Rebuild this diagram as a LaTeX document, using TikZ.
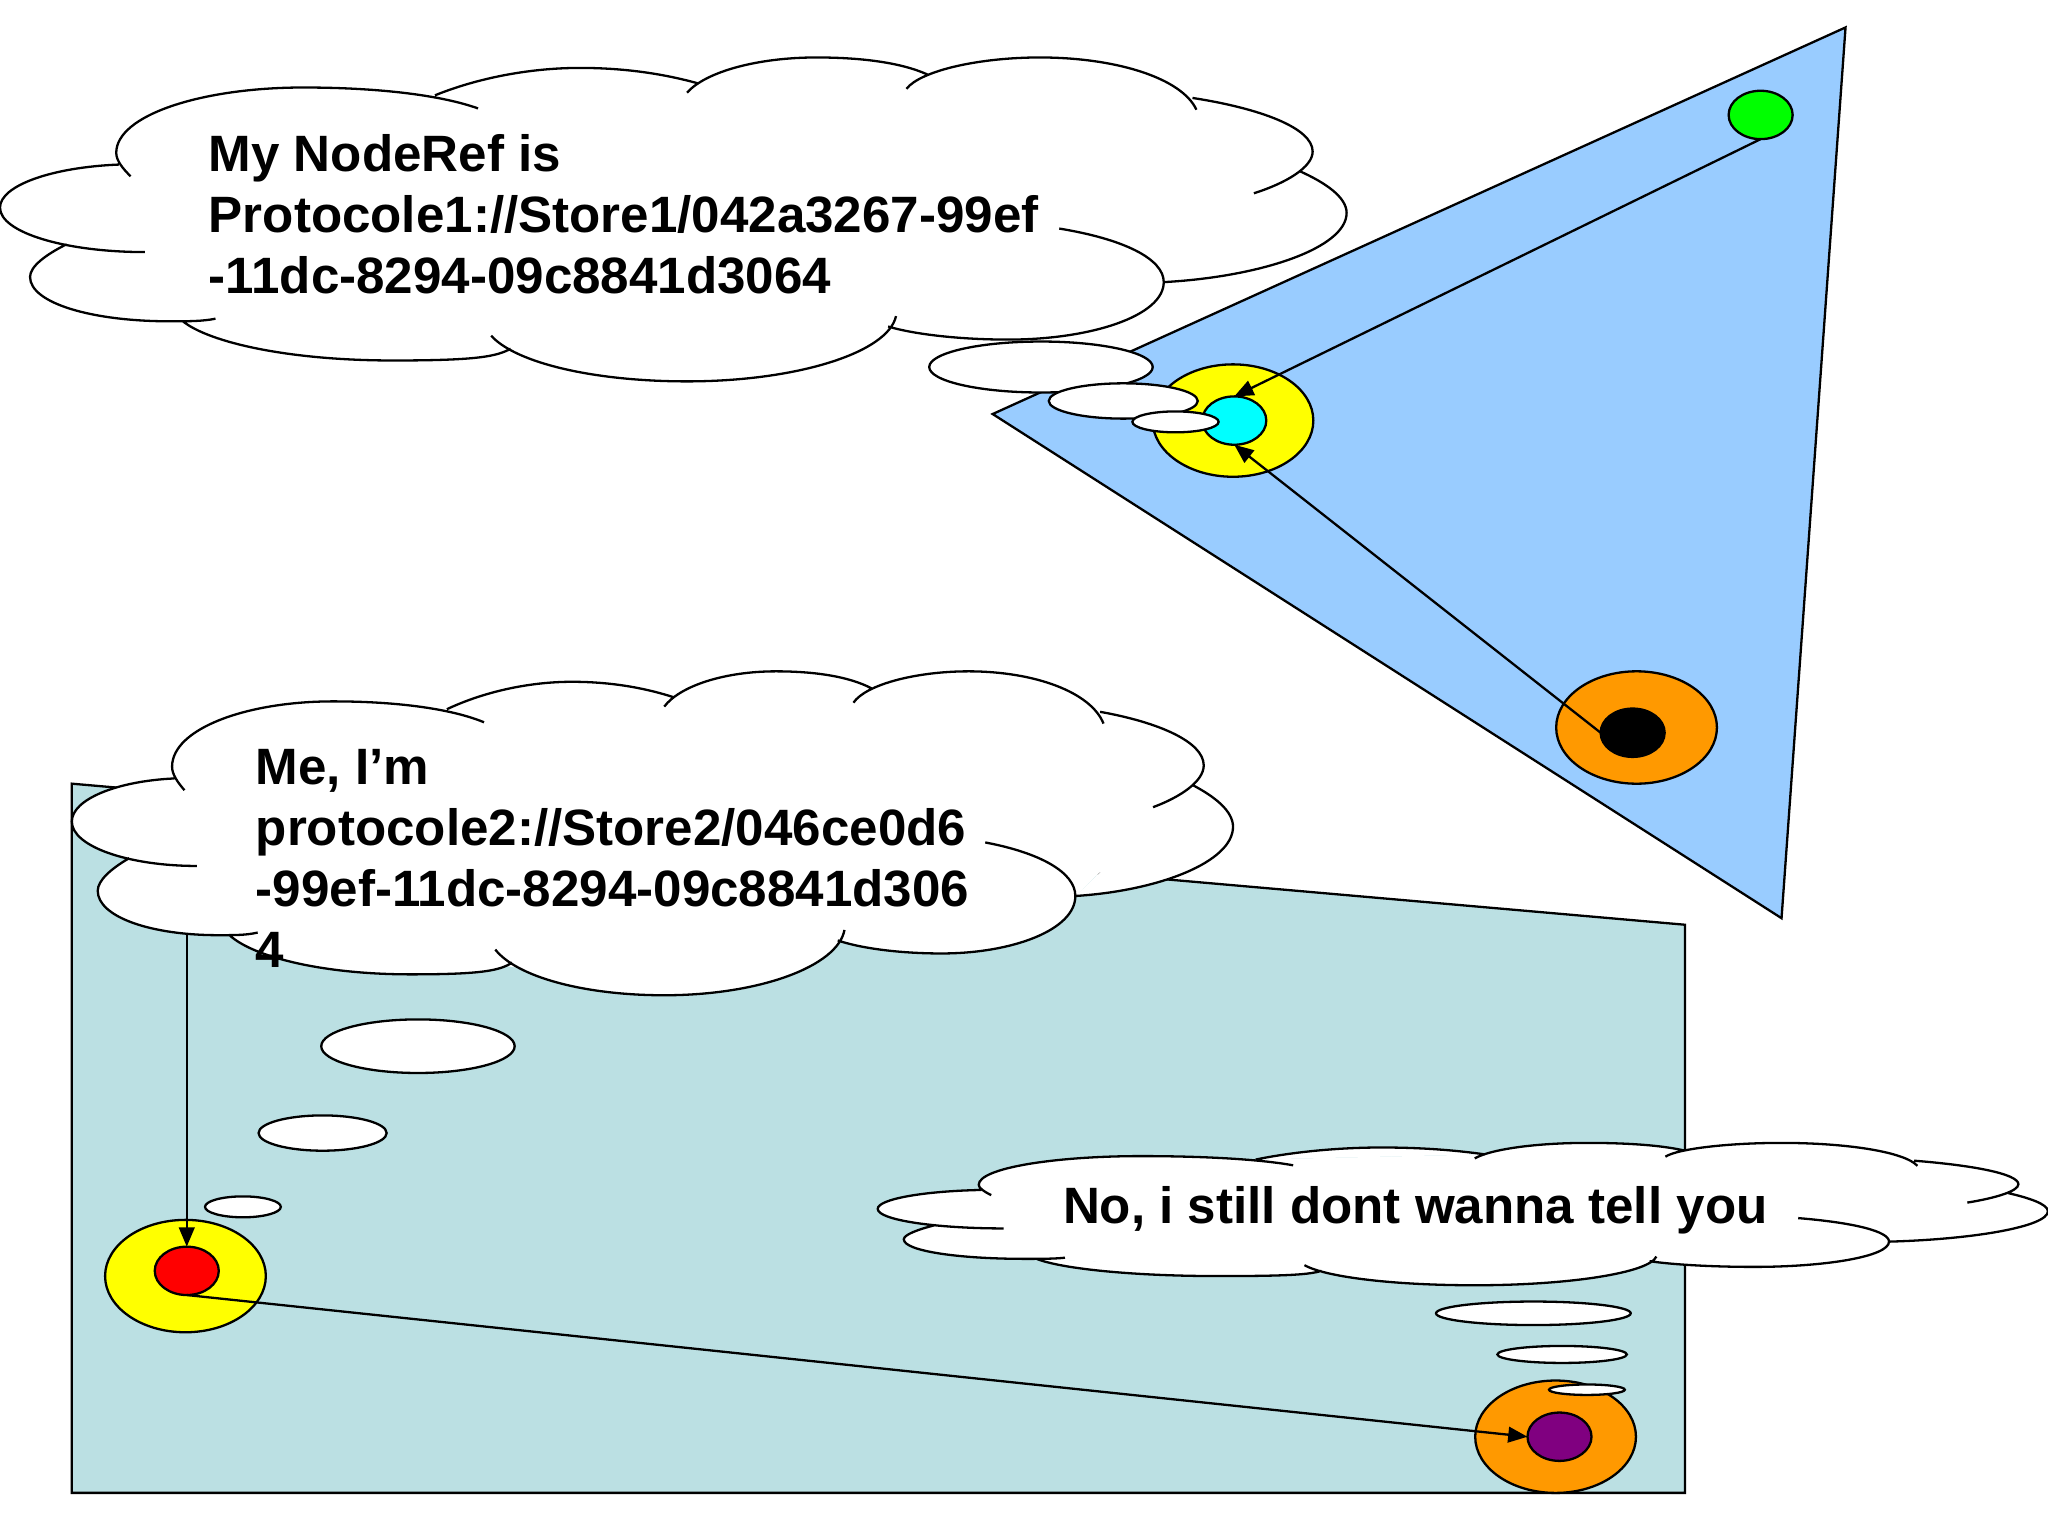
\documentclass[tikz,border=0pt]{standalone}
\usepackage{fontspec}
\setmainfont{Liberation Sans}
\usetikzlibrary{shapes.geometric, arrows.meta}

\definecolor{skyfill}{HTML}{99CCFF}
\definecolor{tealfill}{HTML}{BBE0E3}
\definecolor{ringorange}{HTML}{FF9900}
\definecolor{ringyellow}{HTML}{FFFF00}
\definecolor{dotcyan}{HTML}{00FFFF}
\definecolor{dotgreen}{HTML}{00FF00}
\definecolor{dotred}{HTML}{FF0000}
\definecolor{dotpurple}{HTML}{800080}

% outline of the thought cloud, one sub path per lobe
\newcommand{\cloudlobes}{
	(100,135) .. controls (94,129) and (89,123) .. (89,117) .. controls (89,88) and (155,67) .. (232,67) .. controls (285,67) and (335,72) .. (366,83)
	(333,73) .. controls (365,60) and (405,52) .. (444,52) .. controls (480,52) and (510,57) .. (535,64)
	(526,71) .. controls (540,55) and (580,44) .. (625,44) .. controls (660,44) and (690,48) .. (710,57)
	(694,68) .. controls (705,54) and (750,44) .. (796,44) .. controls (855,44) and (905,60) .. (916,84)
	(913,75) .. controls (965,83) and (1005,98) .. (1005,116) .. controls (1005,128) and (985,140) .. (960,148)
	(995,131) .. controls (1015,140) and (1031,151) .. (1031,163) .. controls (1031,190) and (965,212) .. (891,216)
	(811,175) .. controls (860,183) and (891,198) .. (891,216) .. controls (891,242) and (835,260) .. (772,260) .. controls (735,260) and (700,256) .. (680,250)
	(686,242) .. controls (680,270) and (610,292) .. (526,292) .. controls (455,292) and (395,278) .. (376,257)
	(391,267) .. controls (380,273) and (365,276) .. (301,276) .. controls (220,276) and (160,262) .. (140,246)
	(165,244) .. controls (155,246) and (145,246) .. (130,246) .. controls (70,246) and (23,232) .. (23,212) .. controls (23,204) and (35,195) .. (51,187)
	(111,193) .. controls (50,193) and (0,178) .. (0,159) .. controls (0,142) and (40,128) .. (91,126)
}

\begin{document}
\begin{tikzpicture}[
		x=0.01cm,
		y=-0.01cm,
		line width=0.5pt,
		>={Triangle[length=4.2pt,width=3.4pt]},
		ring/.style={
				draw,
				ellipse,
				inner sep=0pt,
				outer sep=0pt,
				minimum width=1.23cm,
				minimum height=0.86cm
			},
		eye/.style={
				draw,
				ellipse,
				inner sep=0pt,
				outer sep=0pt,
				minimum width=0.49cm,
				minimum height=0.37cm
			},
		puff/.style={
				draw,
				ellipse,
				fill=white,
				inner sep=0pt,
				outer sep=0pt
			},
		speech/.style={
				anchor=west,
				inner sep=0pt,
				align=left,
				font=\bfseries\fontsize{11.13}{13.3}\selectfont
			},
		thought/.pic={
				\fill[white] \cloudlobes;
				\fill[white] (91,126) -- (100,120) -- (333,73) -- (535,64) -- (710,57) -- (916,80) -- (1000,125) -- (891,216) -- (680,250) -- (526,285) -- (388,270) -- (140,246) -- (51,187) -- cycle;
				\draw \cloudlobes;
			}
	]
	\useasboundingbox (0,0) rectangle (1568,1176);

	% Regions
	\draw[fill=skyfill] (1413,21) -- (760,317) -- (1364,703) -- cycle;
	\draw[fill=tealfill] (55,600) -- (1290,708) -- (1290,1143) -- (55,1143) -- cycle;

	% Upper region nodes
	\node[ring, fill=ringyellow] (yellow_upper) at (944,322) {};
	\node[eye, fill=dotcyan] (cyan_dot) at (945,322) {};
	\node[eye, fill=dotgreen] (green_dot) at (1348,88) {};
	\node[ring, fill=ringorange] (orange_upper) at (1253,557) {};
	\node[eye, fill=black] (black_dot) at (1250,561) {};

	% Lower region nodes
	\node[ring, fill=ringyellow] (yellow_lower) at (142,977) {};
	\node[eye, fill=dotred] (red_dot) at (143,973) {};
	\node[ring, fill=ringorange] (orange_lower) at (1191,1100) {};
	\node[eye, fill=dotpurple] (purple_dot) at (1194,1100) {};
	\coordinate (red_from) at (143,700);

	% Paths
	\draw[->] (green_dot.south) -- (cyan_dot.north);
	\draw[->] (black_dot.west) -- (cyan_dot.south);
	\draw[->] (red_from) -- (red_dot.north);
	\draw[->] (red_dot.south) -- (purple_dot.west);

	% Clouds
	\pic (cloud_top) {thought};
	\pic (cloud_left) [shift={(55,470)}, xscale=0.8623] {thought};
	\pic (cloud_right) [shift={(672,855.7)}, xscale=0.869, yscale=0.4395] {thought};

	% Puffs under the clouds
	\node[puff, minimum width=1.71cm, minimum height=0.39cm] (puff_a1) at (797,281) {};
	\node[puff, minimum width=1.14cm, minimum height=0.27cm] (puff_a2) at (860,307) {};
	\node[puff, minimum width=0.66cm, minimum height=0.16cm] (puff_a3) at (900,323) {};
	\node[puff, minimum width=1.48cm, minimum height=0.41cm] (puff_b1) at (320,801) {};
	\node[puff, minimum width=0.98cm, minimum height=0.27cm] (puff_b2) at (247,867.5) {};
	\node[puff, minimum width=0.58cm, minimum height=0.16cm] (puff_b3) at (186,924) {};
	\node[puff, minimum width=1.49cm, minimum height=0.18cm] (puff_c1) at (1174,1005.5) {};
	\node[puff, minimum width=0.99cm, minimum height=0.13cm] (puff_c2) at (1196,1037) {};
	\node[puff, minimum width=0.58cm, minimum height=0.08cm] (puff_c3) at (1215,1064) {};

	% Cloud texts
	\node[speech] (text_top) at (159,164) {My NodeRef is\\Protocole1://Store1/042a3267-99ef\\-11dc-8294-09c8841d3064};
	\node[speech] (text_left) at (195,657) {Me, I’m\\protocole2://Store2/046ce0d6\\-99ef-11dc-8294-09c8841d306\\4};
	\node[speech] (text_right) at (813,927) {No, i still dont wanna tell you};
\end{tikzpicture}
\end{document}
